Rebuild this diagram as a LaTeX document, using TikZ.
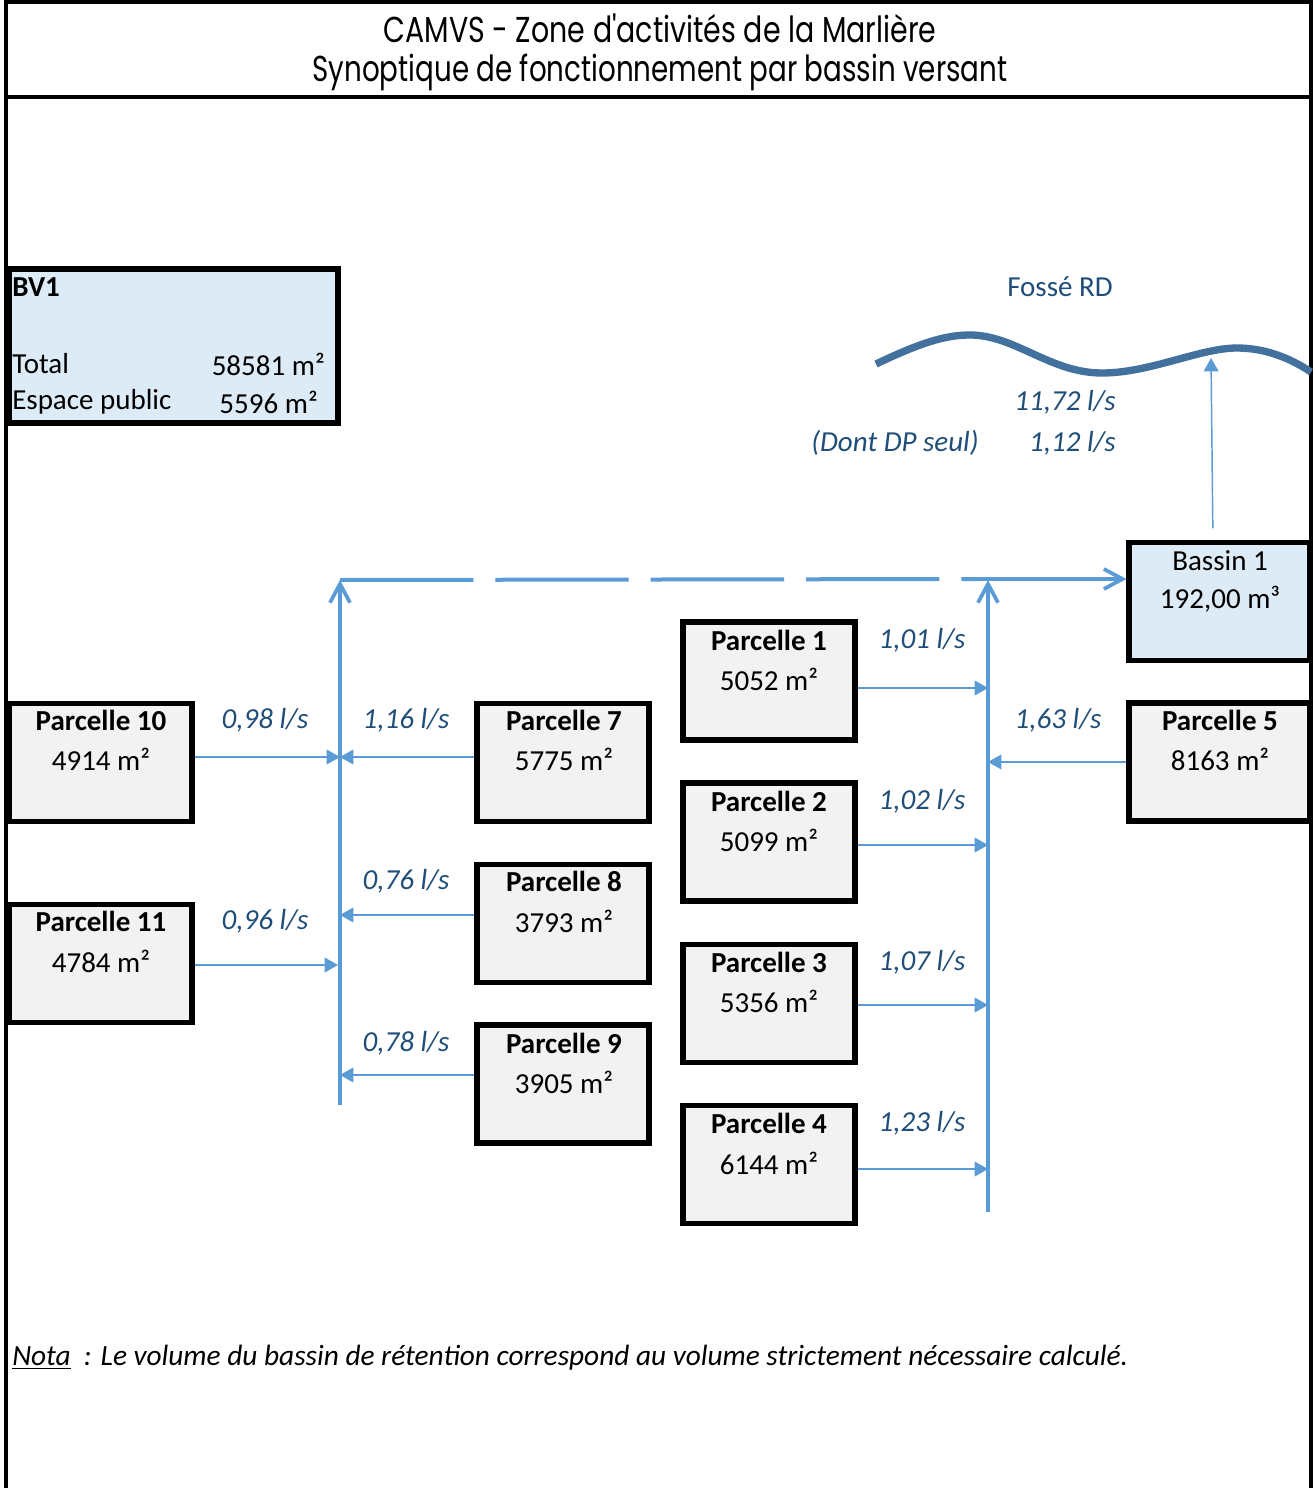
\documentclass[tikz,border=0pt]{standalone}
\usepackage{graphicx}
\usepackage{fontspec}
\setmainfont{Carlito}
\newfontfamily\titlefont{Poppins}
\usetikzlibrary{arrows.meta}
\definecolor{lblue}{HTML}{DDEBF7}
\definecolor{pgray}{HTML}{F2F2F2}
\definecolor{lineblue}{HTML}{5B9BD5}
\definecolor{txtblue}{HTML}{1F4E79}
\definecolor{waveblue}{HTML}{41719C}
\begin{document}
\begin{tikzpicture}[x=0.75pt,y=-0.75pt,
  every node/.style={inner sep=0pt, font=\fontsize{21.75pt}{26pt}\selectfont},
  pbox/.style={draw, line width=3.8pt, fill=pgray, minimum width=129pt, minimum height=88.5pt},
  bbox/.style={draw, line width=3.8pt, fill=lblue},
  ptitle/.style={font=\fontsize{21.75pt}{26pt}\selectfont\bfseries},
  flowlbl/.style={text=txtblue, font=\fontsize{21.75pt}{26pt}\selectfont\itshape},
  flow/.style={draw=lineblue, line width=1.1pt, -{Triangle[length=10pt,width=11pt]}},
  mainline/.style={draw=lineblue, line width=2.8pt, -{Straight Barb[length=14pt,width=15pt]}},
  wave/.style={draw=waveblue, line width=5.5pt},
  ttl/.style={font=\titlefont\fontsize{27pt}{32pt}\selectfont}
]
\useasboundingbox (0,0) rectangle (1314,1488);
\fill[white] (0,0) rectangle (1314,1488);
% frame
\draw[line width=2.6pt] (6,1488) -- (6,2) -- (1311,2) -- (1311,1488);
\draw[line width=3.2pt] (6,97) -- (1311,97);
\node[ttl] at (660,28) {\scalebox{0.79}[1]{CAMVS - Zone d'activités de la Marlière}};
\node[ttl] at (660,72) {\scalebox{0.77}[1]{Synoptique de fonctionnement par bassin versant}};

% BV1
\node[bbox, minimum width=246.75pt, minimum height=115.5pt] (bv1) at (173.5,346) {};
\node[ptitle, anchor=west] at (12,287) {BV1};
\node[anchor=west] at (12,364) {Total};
\node[anchor=east] at (325,364) {58581 m²};
\node[anchor=west] at (12,402) {Espace public};
\node[anchor=east] at (318,402) {5596 m²};

% Fosse
\node[text=txtblue] at (1060,287) {Fossé RD};
\draw[wave] (876,364) .. controls (920,343) and (945,335) .. (970,335)
  .. controls (1015,335) and (1050,373) .. (1102,373)
  .. controls (1150,373) and (1200,348) .. (1237,348)
  .. controls (1265,348) and (1290,358) .. (1311,372);
\coordinate (outlet) at (1211,358);
\node[flowlbl, anchor=east] at (1116,402) {11,72 l/s};
\node[flowlbl] at (895,443) {(Dont DP seul)};
\node[flowlbl, anchor=east] at (1116,443) {1,12 l/s};

% Bassin
\node[bbox, minimum width=135.75pt, minimum height=88pt] (bassin) at (1219.5,601.5) {};
\node at (1220,561) {Bassin 1};
\node at (1220,599) {192,00 m³};
\draw[flow] ([xshift=-5pt,yshift=9pt]bassin.north) -- (outlet);

% collectors
\coordinate (Lb) at (340,1105);
\coordinate (Lt) at (340,580);
\coordinate (Rb) at (988,1212);
\coordinate (Rt) at (988,580);
\coordinate (dend) at (975,579);
\draw[mainline] (Lb) -- (Lt);
\draw[mainline] (Rb) -- (Rt);
\draw[draw=lineblue, line width=3pt, dash pattern=on 100pt off 16.5pt] (Lt) -- (dend);
\draw[mainline] (dend) -- (bassin.west |- dend);

% parcels left group
\node[pbox, minimum width=137.25pt] (p10) at (100.5,762.5) {};
\node[ptitle] at (101,720) {Parcelle 10};
\node at (101,759) {4914 m²};
\node[pbox, minimum width=137.25pt] (p11) at (100.5,963.5) {};
\node[ptitle] at (101,921) {Parcelle 11};
\node at (101,961) {4784 m²};
\node[pbox] (p7) at (563,762.5) {};
\node[ptitle] at (564,720) {Parcelle 7};
\node at (564,759) {5775 m²};
\node[pbox] (p8) at (563,923.5) {};
\node[ptitle] at (564,881) {Parcelle 8};
\node at (564,921) {3793 m²};
\node[pbox] (p9) at (563,1084) {};
\node[ptitle] at (564,1043) {Parcelle 9};
\node at (564,1082) {3905 m²};

% parcels right group
\node[pbox] (p1) at (769,681) {};
\node[ptitle] at (769,640) {Parcelle 1};
\node at (769,679) {5052 m²};
\node[pbox] (p2) at (769,842) {};
\node[ptitle] at (769,801) {Parcelle 2};
\node at (769,840) {5099 m²};
\node[pbox] (p3) at (769,1003.5) {};
\node[ptitle] at (769,962) {Parcelle 3};
\node at (769,1001) {5356 m²};
\node[pbox] (p4) at (769,1164.5) {};
\node[ptitle] at (769,1123) {Parcelle 4};
\node at (769,1163) {6144 m²};
\node[pbox, minimum width=135.75pt] (p5) at (1219.5,762) {};
\node[ptitle] at (1220,720) {Parcelle 5};
\node at (1220,759) {8163 m²};

% junctions
\coordinate (j10) at (340,757);
\coordinate (j7) at (340,757);
\coordinate (j11) at (338,965);
\coordinate (j8) at (340,915);
\coordinate (j9) at (340,1075);
\coordinate (j1) at (988,688);
\coordinate (j2) at (988,845);
\coordinate (j3) at (988,1005);
\coordinate (j4) at (988,1169);
\coordinate (j5) at (988,762);

\draw[flow] (p10.east |- j10) -- (j10);
\draw[flow] (p7.west |- j7) -- (j7);
\draw[flow] (p11.east |- j11) -- (j11);
\draw[flow] (p8.west |- j8) -- (j8);
\draw[flow] (p9.west |- j9) -- (j9);
\draw[flow] (p1.east |- j1) -- (j1);
\draw[flow] (p2.east |- j2) -- (j2);
\draw[flow] (p3.east |- j3) -- (j3);
\draw[flow] (p4.east |- j4) -- (j4);
\draw[flow] (p5.west |- j5) -- (j5);

\node[flowlbl] at (265,720) {0,98 l/s};
\node[flowlbl] at (406,720) {1,16 l/s};
\node[flowlbl] at (265,921) {0,96 l/s};
\node[flowlbl] at (406,881) {0,76 l/s};
\node[flowlbl] at (406,1043) {0,78 l/s};
\node[flowlbl] at (922,640) {1,01 l/s};
\node[flowlbl] at (922,801) {1,02 l/s};
\node[flowlbl] at (922,962) {1,07 l/s};
\node[flowlbl] at (922,1123) {1,23 l/s};
\node[flowlbl] at (1058,720) {1,63 l/s};

% nota
\node[anchor=west, font=\fontsize{22pt}{26pt}\selectfont\itshape] at (12,1358) {\underline{Nota}\ \ : Le volume du bassin de rétention correspond au volume strictement nécessaire calculé.};
\end{tikzpicture}
\end{document}
